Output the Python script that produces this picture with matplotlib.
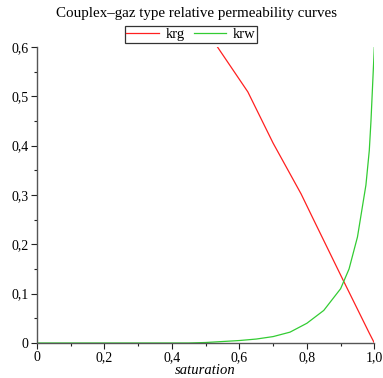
"""Couplex-gaz relative permeability curves (krg / krw vs saturation)."""
import matplotlib

matplotlib.use("Agg")
import matplotlib.pyplot as plt
from matplotlib.ticker import FixedLocator, FuncFormatter, MultipleLocator

# gas relative permeability
sat_g = [0.50, 0.533, 0.625, 0.70, 0.783, 0.817, 0.907, 0.985, 1.0]
krg = [0.636, 0.602, 0.509, 0.405, 0.302, 0.254, 0.128, 0.02, 0.0]

# water relative permeability
sat_w = [0.0, 0.45, 0.50, 0.55, 0.60, 0.65, 0.70, 0.75, 0.80, 0.85,
         0.90, 0.925, 0.95, 0.975, 0.985, 0.99, 1.0]
krw = [0.0, 0.0, 0.001, 0.003, 0.005, 0.008, 0.013, 0.022, 0.04, 0.066,
       0.11, 0.15, 0.215, 0.32, 0.39, 0.45, 0.6]

title = "Couplex\u2013gaz type relative permeability curves"
xlabel = "saturation"

plt.rcParams["font.family"] = ["Liberation Serif", "DejaVu Serif"]

fig = plt.figure(figsize=(3.83, 3.78), dpi=100)
ax = fig.add_axes([0.0966, 0.0926, 0.9774 - 0.0966, 0.8757 - 0.0926])

ax.plot(sat_g, krg, color="#ff2020", lw=0.9, label="krg")
ax.plot(sat_w, krw, color="#33cc33", lw=0.9, label="krw")

ax.set_xlim(0, 1.0)
ax.set_ylim(0, 0.6)
for side in ("top", "right"):
    ax.spines[side].set_visible(False)
for side in ("left", "bottom"):
    ax.spines[side].set_color("#555555")
    ax.spines[side].set_linewidth(1.0)

comma = FuncFormatter(lambda v, _: "0" if abs(v) < 1e-9 else f"{v:.1f}".replace(".", ","))
ax.xaxis.set_major_locator(FixedLocator([0, 0.2, 0.4, 0.6, 0.8, 1.0]))
ax.xaxis.set_minor_locator(MultipleLocator(0.1))
ax.yaxis.set_major_locator(MultipleLocator(0.1))
ax.yaxis.set_minor_locator(MultipleLocator(0.05))
ax.xaxis.set_major_formatter(comma)
ax.yaxis.set_major_formatter(comma)
ax.tick_params(which="major", length=4, width=0.8, color="#222222", labelsize=10, pad=2)
ax.tick_params(which="minor", length=2.5, width=0.8, color="#222222")

ax.set_xlabel(xlabel, style="italic", fontsize=10.5, labelpad=0)
fig.suptitle(title, fontsize=10.8, x=0.514, y=0.982)

leg = ax.legend(loc="lower center", bbox_to_anchor=(0.457, 1.005), ncol=2, fontsize=10.5,
                frameon=True, fancybox=False, handlelength=2.2, handletextpad=0.5,
                columnspacing=0.6, borderpad=0.1, borderaxespad=0.2)
leg.get_frame().set_edgecolor("black")
leg.get_frame().set_linewidth(0.9)

fig.savefig("out.png", dpi=100)
